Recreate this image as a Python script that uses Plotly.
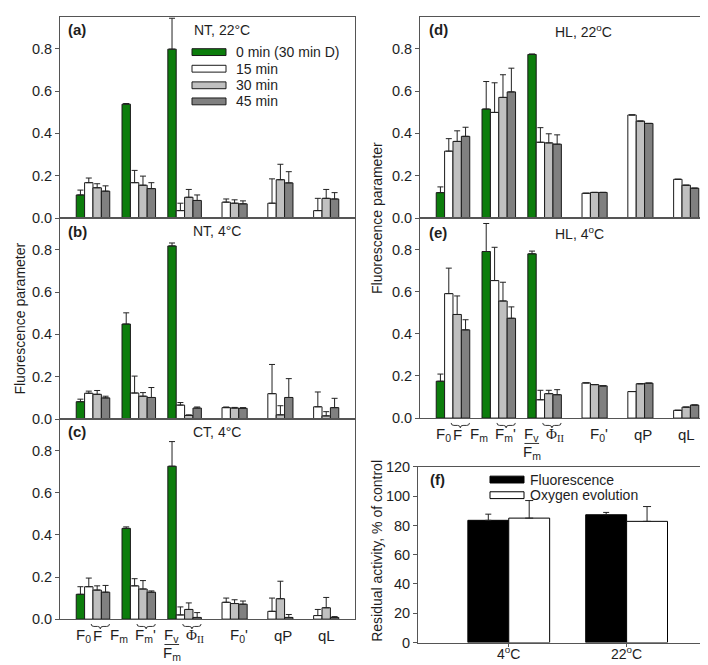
import plotly.graph_objects as go

W, H = 708, 665

# ---------------- data ----------------
groups = ["F0/F", "Fm/Fm'", "Fv/Fm-PhiII", "F0'", "qP", "qL"]
series_names = ["0 min (30 min D)", "15 min", "30 min", "45 min"]

# (a) NT, 22 C
a_0 = [0.109, 0.538, 0.798, None, None, None]
a_0_err = [0.023, 0.003, 0.146, None, None, None]
a_15 = [0.167, 0.167, 0.035, 0.075, 0.070, 0.035]
a_15_err = [0.022, 0.058, 0.035, 0.015, 0.115, 0.058]
a_30 = [0.143, 0.155, 0.098, 0.070, 0.181, 0.093]
a_30_err = [0.019, 0.043, 0.037, 0.016, 0.073, 0.042]
a_45 = [0.127, 0.139, 0.083, 0.067, 0.166, 0.090]
a_45_err = [0.025, 0.028, 0.026, 0.014, 0.053, 0.030]

# (b) NT, 4 C
b_0 = [0.082, 0.449, 0.818, None, None, None]
b_0_err = [0.012, 0.053, 0.014, None, None, None]
b_15 = [0.122, 0.123, 0.066, 0.054, 0.120, 0.058]
b_15_err = [0.010, 0.080, 0.012, 0.003, 0.138, 0.070]
b_30 = [0.117, 0.108, 0.017, 0.052, 0.020, 0.015]
b_30_err = [0.018, 0.017, 0.003, 0.003, 0.043, 0.020]
b_45 = [0.100, 0.102, 0.052, 0.051, 0.102, 0.054]
b_45_err = [0.008, 0.047, 0.005, 0.003, 0.089, 0.044]

# (c) CT, 4 C
c_0 = [0.118, 0.431, 0.726, None, None, None]
c_0_err = [0.036, 0.007, 0.117, None, None, None]
c_15 = [0.154, 0.158, 0.020, 0.080, 0.037, 0.017]
c_15_err = [0.041, 0.034, 0.038, 0.020, 0.063, 0.029]
c_30 = [0.138, 0.143, 0.046, 0.074, 0.097, 0.054]
c_30_err = [0.020, 0.040, 0.031, 0.018, 0.083, 0.049]
c_45 = [0.128, 0.128, 0.008, 0.071, 0.008, 0.008]
c_45_err = [0.032, 0.006, 0.023, 0.015, 0.014, 0.004]

# (d) HL, 22 C
d_0 = [0.120, 0.515, 0.773, None, None, None]
d_0_err = [0.027, 0.130, 0.002, None, None, None]
d_15 = [0.316, 0.499, 0.358, 0.117, 0.487, 0.183]
d_15_err = [0.059, 0.140, 0.069, 0, 0, 0]
d_30 = [0.362, 0.570, 0.355, 0.121, 0.458, 0.155]
d_30_err = [0.050, 0.107, 0.043, 0, 0, 0]
d_45 = [0.386, 0.596, 0.349, 0.121, 0.447, 0.141]
d_45_err = [0.043, 0.112, 0.044, 0, 0, 0]

# (e) HL, 4 C
e_0 = [0.175, 0.791, 0.780, None, None, None]
e_0_err = [0.034, 0.133, 0.013, None, None, None]
e_15 = [0.591, 0.653, 0.087, 0.167, 0.126, 0.037]
e_15_err = [0.121, 0.158, 0.045, 0, 0, 0]
e_30 = [0.492, 0.556, 0.116, 0.159, 0.163, 0.052]
e_30_err = [0.088, 0.089, 0.016, 0, 0, 0]
e_45 = [0.419, 0.474, 0.111, 0.153, 0.166, 0.062]
e_45_err = [0.048, 0.054, 0.024, 0, 0, 0]

# (f) residual activity
f_temps = ["4°C", "22°C"]
f_tick_labels = ["4<sup>o</sup>C", "22<sup>o</sup>C"]
f_fluor = [83.5, 87.3]
f_fluor_err = [4.2, 1.6]
f_oxygen = [85.0, 82.8]
f_oxygen_err = [12.0, 10.1]

y_ticks = [0.0, 0.2, 0.4, 0.6, 0.8]
f_y_ticks = [0, 20, 40, 60, 80, 100, 120]

# ---------------- styling ----------------
COLORS = ["#0c7d0c", "#ffffff", "#c0c0c0", "#808080"]
EDGE = "#1a1a1a"
FRAME = "#555555"
TXT = "#1e1e1e"
FONT = "Liberation Sans, Arial, sans-serif"
BW = 0.183
OFFS = [-2 * BW, -BW, 0.0, BW]


def px(x):
    return x / W


def py(y):
    return 1 - y / H


panels = [
    dict(key="", vals=[a_0, a_15, a_30, a_45], errs=[a_0_err, a_15_err, a_30_err, a_45_err],
         xd=[52, 347], yd=[1, 207], label="(a)", lab_xy=(58, 14), title="NT, 22°C", t_xy=(214, 14)),
    dict(key="2", vals=[b_0, b_15, b_30, b_45], errs=[b_0_err, b_15_err, b_30_err, b_45_err],
         xd=[52, 347], yd=[207, 413], label="(b)", lab_xy=(58, 221), title="NT, 4°C", t_xy=(209, 220)),
    dict(key="3", vals=[c_0, c_15, c_30, c_45], errs=[c_0_err, c_15_err, c_30_err, c_45_err],
         xd=[52, 347], yd=[413, 618], label="(c)", lab_xy=(58, 426), title="CT, 4°C", t_xy=(209, 426)),
    dict(key="4", vals=[d_0, d_15, d_30, d_45], errs=[d_0_err, d_15_err, d_30_err, d_45_err],
         xd=[412, 707], yd=[1, 207], label="(d)", lab_xy=(419, 14), title="HL, 22<sup>o</sup>C", t_xy=(575, 15)),
    dict(key="5", vals=[e_0, e_15, e_30, e_45], errs=[e_0_err, e_15_err, e_30_err, e_45_err],
         xd=[412, 707], yd=[207, 412], label="(e)", lab_xy=(419, 222), title="HL, 4<sup>o</sup>C", t_xy=(571, 222)),
]

fig = go.Figure()
layout = dict(
    width=W, height=H, autosize=False,
    margin=dict(l=0, r=0, t=0, b=0),
    paper_bgcolor="white", plot_bgcolor="white",
    showlegend=False, barmode="overlay",
    font=dict(family=FONT, size=14, color=TXT),
)
annotations = []
shapes = []

axis_common = dict(showline=True, mirror=True, linecolor=FRAME, linewidth=1,
                   showgrid=False, zeroline=False)

for p in panels:
    k = p["key"]
    for i in range(4):
        fig.add_trace(go.Bar(
            x=groups, y=p["vals"][i], name=series_names[i],
            xaxis="x" + k, yaxis="y" + k,
            width=BW, offset=OFFS[i],
            marker=dict(color=COLORS[i], line=dict(color=EDGE, width=1)),
            error_y=dict(type="data", array=p["errs"][i], arrayminus=[0] * len(groups),
                         symmetric=False, color="#222222", thickness=1, width=3),
        ))
    layout["xaxis" + k] = dict(axis_common, domain=[px(p["xd"][0]), px(p["xd"][1])],
                               anchor="y" + k, range=[-0.72, 5.72], showticklabels=False,
                               ticks="", type="category")
    layout["yaxis" + k] = dict(axis_common, domain=[py(p["yd"][1]), py(p["yd"][0])],
                               anchor="x" + k, range=[0, 0.95], tickvals=y_ticks,
                               tickformat=".1f", ticks="outside", ticklen=4, tickcolor=FRAME,
                               tickfont=dict(size=14.5, color=TXT))
    annotations.append(dict(text="<b>" + p["label"] + "</b>", xref="paper", yref="paper",
                            x=px(p["lab_xy"][0]), y=py(p["lab_xy"][1]), xanchor="left",
                            yanchor="middle", showarrow=False, font=dict(size=15, color=TXT)))
    annotations.append(dict(text=p["title"], xref="paper", yref="paper",
                            x=px(p["t_xy"][0]), y=py(p["t_xy"][1]), xanchor="center",
                            yanchor="middle", showarrow=False, font=dict(size=14, color=TXT)))

# panel (f)
fig.add_trace(go.Bar(x=f_temps, y=f_fluor, name="Fluorescence", xaxis="x6", yaxis="y6",
                     width=0.347, offset=-0.347,
                     marker=dict(color="#000000", line=dict(color="#000000", width=1)),
                     error_y=dict(type="data", array=f_fluor_err, arrayminus=[0, 0], symmetric=False,
                                  color="#222222", thickness=1, width=3)))
fig.add_trace(go.Bar(x=f_temps, y=f_oxygen, name="Oxygen evolution", xaxis="x6", yaxis="y6",
                     width=0.347, offset=0.0,
                     marker=dict(color="#ffffff", line=dict(color="#000000", width=1)),
                     error_y=dict(type="data", array=f_oxygen_err, arrayminus=[0, 0], symmetric=False,
                                  color="#222222", thickness=1, width=4)))
layout["xaxis6"] = dict(axis_common, domain=[px(410), px(707)], anchor="y6", range=[-0.77, 1.75],
                        type="category", tickmode="array", tickvals=f_temps, ticktext=f_tick_labels,
                        ticks="outside", ticklen=3, tickcolor=FRAME, ticklabelstandoff=-4,
                        tickfont=dict(size=14, color=TXT))
layout["yaxis6"] = dict(axis_common, domain=[py(642), py(462)], anchor="x6", range=[0, 120],
                        tickvals=f_y_ticks, ticks="outside", ticklen=4, tickcolor=FRAME,
                        tickfont=dict(size=14.5, color=TXT))
annotations.append(dict(text="<b>(f)</b>", xref="paper", yref="paper", x=px(420), y=py(475),
                        xanchor="left", yanchor="middle", showarrow=False, font=dict(size=15, color=TXT)))

# axis titles
for (xx, yy, txt) in [(12, 310, "Fluorescence parameter"), (369, 207, "Fluorescence parameter"),
                      (369, 548, "Residual activity, % of control")]:
    annotations.append(dict(text=txt, xref="paper", yref="paper", x=px(xx), y=py(yy),
                            textangle=-90, xanchor="center", yanchor="middle", showarrow=False,
                            font=dict(size=14, color=TXT)))

# legend of (a)
leg_rows = [37, 54, 71, 87.5]
for i, name in enumerate(series_names):
    yc = leg_rows[i]
    shapes.append(dict(type="rect", xref="paper", yref="paper", x0=px(184), x1=px(218),
                       y0=py(yc + 3.5), y1=py(yc - 3.5), fillcolor=COLORS[i],
                       line=dict(color=EDGE, width=1)))
    annotations.append(dict(text=name, xref="paper", yref="paper", x=px(226), y=py(yc),
                            xanchor="left", yanchor="middle", showarrow=False,
                            font=dict(size=14, color=TXT)))
# legend of (f)
for yc, col, name in [(475, "#000000", "Fluorescence"), (491, "#ffffff", "Oxygen evolution")]:
    shapes.append(dict(type="rect", xref="paper", yref="paper", x0=px(482), x1=px(516),
                       y0=py(yc + 3.5), y1=py(yc - 3.5), fillcolor=col,
                       line=dict(color="#000000", width=1)))
    annotations.append(dict(text=name, xref="paper", yref="paper", x=px(520), y=py(yc),
                            xanchor="left", yanchor="middle", showarrow=False,
                            font=dict(size=14, color=TXT)))


# x labels for (c) and (e)
def brace(xref, x0, x1, ytop, ybot):
    ym = (ytop + ybot) / 2
    d = 0.06
    xm = (x0 + x1) / 2
    path = (f"M {x0},{ytop} Q {x0},{ym} {x0 + d},{ym} L {xm - d},{ym} "
            f"Q {xm},{ym} {xm},{ybot} Q {xm},{ym} {xm + d},{ym} L {x1 - d},{ym} "
            f"Q {x1},{ym} {x1},{ytop}")
    return dict(type="path", xref=xref, yref="paper", path=path,
                line=dict(color="#333333", width=1))


def x_labels(xref, ybot):
    ty = py(ybot + 17)
    items = [
        (0 - 0.2, "F<sub>0</sub>", ty, FONT),
        (0 + 0.1, "F", ty, FONT),
        (1 - 0.44, "F<sub>m</sub>", ty, FONT),
        (1 + 0.15, "F<sub>m</sub>'", ty, FONT),
        (2 - 0.28, "F<sub>v</sub>", ty, FONT),
        (2 - 0.27, "F<sub>m</sub>", py(ybot + 35.5), FONT),
        (2 + 0.22, "Φ<sub>II</sub>", ty, "Liberation Serif, Times New Roman, serif"),
        (3 + 0.19, "F<sub>0</sub>'", ty, FONT),
        (4 + 0.15, "qP", ty, FONT),
        (5 + 0.10, "qL", ty, FONT),
    ]
    for xx, txt, yy, fam in items:
        annotations.append(dict(text=txt, xref=xref, yref="paper", x=xx, y=yy,
                                xanchor="center", yanchor="middle", showarrow=False,
                                font=dict(size=15, color=TXT, family=fam)))
    for g in range(3):
        shapes.append(brace(xref, g - 0.04, g + 0.36, py(ybot + 5), py(ybot + 10)))
    shapes.append(dict(type="line", xref=xref, yref="paper", x0=2 - 0.44, x1=2 - 0.12,
                       y0=py(ybot + 26), y1=py(ybot + 26), line=dict(color="#333333", width=1)))


x_labels("x3", 618)
x_labels("x5", 412)

layout["annotations"] = annotations
layout["shapes"] = shapes
fig.update_layout(**layout)
fig.write_html("out.html")
